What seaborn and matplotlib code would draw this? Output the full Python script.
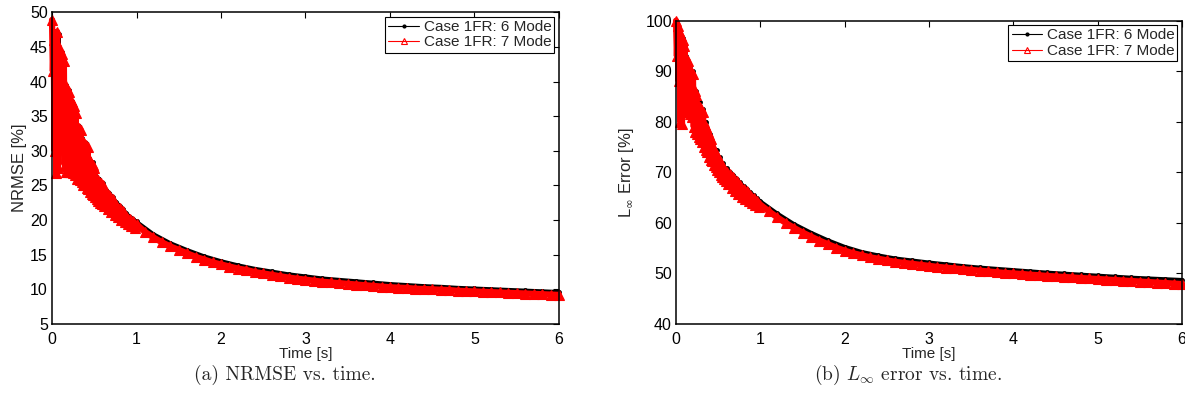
import matplotlib
matplotlib.use("Agg")
import matplotlib.pyplot as plt
from matplotlib.lines import Line2D
import seaborn as sns
import pandas as pd

# ---------------- data ----------------
# NRMSE, Case 1FR: 7 Mode (red)
t_red = [0.00, 0.01, 0.02, 0.03, 0.04, 0.05, 0.06, 0.07, 0.08, 0.09,
         0.10, 0.11, 0.12, 0.13, 0.14, 0.15, 0.16, 0.17, 0.18, 0.19,
         0.20, 0.21, 0.22, 0.23, 0.24, 0.25, 0.26, 0.27, 0.28, 0.29,
         0.30, 0.31, 0.32, 0.33, 0.34, 0.35, 0.36, 0.37, 0.38, 0.39,
         0.40, 0.41, 0.42, 0.43, 0.44, 0.45, 0.46, 0.47, 0.48, 0.49,
         0.50, 0.51, 0.52, 0.53, 0.54, 0.55, 0.56, 0.57, 0.58, 0.59,
         0.60, 0.62, 0.64, 0.66, 0.68, 0.70, 0.72, 0.74, 0.76, 0.78,
         0.80, 0.82, 0.84, 0.86, 0.88, 0.90, 0.92, 0.94, 0.96, 0.98,
         1.0, 1.1, 1.2, 1.3, 1.4, 1.5, 1.6, 1.7, 1.8, 1.9,
         2.0, 2.1, 2.2, 2.3, 2.4, 2.5, 2.6, 2.7, 2.8, 2.9,
         3.0, 3.1, 3.2, 3.3, 3.4, 3.5, 3.6, 3.7, 3.8, 3.9,
         4.0, 4.1, 4.2, 4.3, 4.4, 4.5, 4.6, 4.7, 4.8, 4.9,
         5.0, 5.1, 5.2, 5.3, 5.4, 5.5, 5.6, 5.7, 5.8, 5.9, 6.0]

nrmse_7 = [48.9, 41.5, 46.0, 30.0, 44.5, 26.8, 47.2, 27.5, 45.0, 31.0,
           44.3, 31.0, 44.0, 31.5, 43.0, 28.0, 39.3, 27.0, 39.0, 27.0,
           38.5, 27.0, 37.1, 27.0, 37.0, 26.8, 36.5, 26.5, 35.5, 26.0,
           33.5, 26.0, 33.3, 25.8, 33.0, 25.5, 31.5, 25.0, 31.1, 25.0,
           30.8, 24.7, 30.5, 24.5, 28.8, 24.0, 28.3, 23.8, 28.0, 23.6,
           27.5, 23.3, 26.0, 23.0, 25.8, 22.8, 25.5, 22.5, 25.3, 22.3,
           25.0, 22.0, 24.0, 21.6, 23.6, 21.2, 23.0, 20.8, 22.2, 20.4,
           21.8, 20.0, 21.3, 19.7, 20.6, 19.4, 20.2, 19.1, 19.8, 18.8,
           19.4, 18.3, 17.5, 16.8, 16.2, 15.7, 15.2, 14.7, 14.3, 13.9,
           13.6, 13.3, 13.0, 12.8, 12.5, 12.3, 12.1, 11.9, 11.7, 11.55,
           11.4, 11.25, 11.1, 11.0, 10.9, 10.8, 10.7, 10.6, 10.5, 10.4,
           10.3, 10.25, 10.2, 10.1, 10.05, 10.0, 9.95, 9.9, 9.8, 9.75,
           9.7, 9.65, 9.6, 9.55, 9.5, 9.45, 9.4, 9.35, 9.3, 9.25, 9.2]

# L_inf error, Case 1FR: 7 Mode (red), same time stamps as t_red
linf_7 = [100.0, 93.0, 99.0, 88.0, 98.0, 80.0, 97.0, 79.5, 96.2, 82.0,
          95.0, 83.0, 92.6, 82.5, 92.0, 82.0, 90.3, 81.5, 90.0, 81.0,
          89.5, 79.0, 86.0, 78.0, 85.3, 77.5, 83.3, 77.0, 83.0, 76.5,
          82.5, 76.0, 82.0, 75.0, 79.4, 74.5, 79.0, 74.0, 78.0, 73.0,
          76.8, 72.5, 76.5, 72.2, 75.0, 71.5, 74.1, 71.0, 73.5, 70.5,
          72.8, 70.0, 72.2, 69.5, 71.5, 69.0, 71.0, 68.6, 70.2, 68.2,
          70.0, 67.6, 69.6, 67.0, 69.0, 66.4, 68.2, 65.8, 67.5, 65.2,
          66.8, 64.8, 66.3, 64.3, 65.6, 63.9, 65.0, 63.5, 64.4, 63.1,
          63.6, 62.3, 61.1, 60.0, 59.0, 58.1, 57.3, 56.5, 55.8, 55.1,
          54.5, 54.0, 53.6, 53.2, 52.9, 52.6, 52.3, 52.1, 51.9, 51.7,
          51.5, 51.3, 51.15, 51.0, 50.85, 50.7, 50.55, 50.4, 50.25, 50.1,
          50.0, 49.9, 49.75, 49.65, 49.5, 49.4, 49.3, 49.2, 49.1, 49.0,
          48.9, 48.8, 48.7, 48.6, 48.5, 48.4, 48.3, 48.2, 48.1, 48.0, 47.9]

# Case 1FR: 6 Mode (black)
t_blk = [0.00, 0.02, 0.04, 0.06, 0.08, 0.10, 0.12, 0.14, 0.16, 0.18,
         0.20, 0.22, 0.24, 0.26, 0.28, 0.30, 0.32, 0.34, 0.36, 0.38,
         0.40, 0.42, 0.44, 0.46, 0.48, 0.50, 0.52, 0.54, 0.56, 0.58,
         0.60, 0.64, 0.68, 0.72, 0.76, 0.80, 0.84, 0.88, 0.92, 0.96,
         1.0, 1.2, 1.4, 1.6, 1.8, 2.0, 2.2, 2.4, 2.6, 2.8,
         3.0, 3.2, 3.4, 3.6, 3.8, 4.0, 4.2, 4.4, 4.6, 4.8,
         5.0, 5.2, 5.4, 5.6, 5.8, 6.0]

nrmse_6 = [48.9, 42.0, 45.0, 27.2, 46.8, 31.2, 44.2, 31.5, 39.5, 27.3,
           38.8, 27.2, 37.2, 26.8, 35.8, 26.3, 33.6, 26.0, 31.8, 25.3,
           31.2, 24.9, 29.0, 24.2, 28.4, 23.8, 26.3, 23.3, 26.0, 22.8,
           25.4, 24.4, 23.9, 23.3, 22.6, 22.1, 21.6, 21.0, 20.5, 20.1,
           19.8, 18.0, 16.7, 15.7, 14.8, 14.1, 13.5, 13.0, 12.6, 12.2,
           11.9, 11.6, 11.4, 11.2, 11.0, 10.8, 10.65, 10.5, 10.4, 10.25,
           10.15, 10.05, 9.95, 9.85, 9.75, 9.65]

linf_6 = [100.0, 94.0, 98.5, 81.0, 96.5, 83.5, 93.0, 83.0, 91.0, 82.0,
          90.0, 79.5, 86.0, 78.0, 84.0, 77.0, 82.5, 75.5, 80.0, 74.5,
          77.5, 73.0, 75.8, 72.0, 74.5, 71.0, 73.0, 70.0, 71.8, 69.2,
          70.8, 70.0, 69.5, 68.7, 68.0, 67.3, 66.7, 66.1, 65.5, 64.9,
          64.3, 61.9, 59.8, 58.1, 56.6, 55.3, 54.3, 53.6, 53.0, 52.6,
          52.2, 51.85, 51.5, 51.2, 50.95, 50.7, 50.45, 50.2, 50.0, 49.8,
          49.6, 49.4, 49.2, 49.05, 48.9, 48.75]

labels = ["Case 1FR: 6 Mode", "Case 1FR: 7 Mode"]
x_ticks = [0, 1, 2, 3, 4, 5, 6]
y_ticks_a = [5, 10, 15, 20, 25, 30, 35, 40, 45, 50]
y_ticks_b = [40, 50, 60, 70, 80, 90, 100]
captions = ["(a) NRMSE vs. time.", r"(b) $L_\infty$ error vs. time."]

# ---------------- style ----------------
sns.set_style("white")
plt.rcParams["font.family"] = ["Liberation Sans", "DejaVu Sans"]

fig = plt.figure(figsize=(11.85, 4.11), dpi=100)
ax_a = fig.add_axes([0.0439, 0.2117, 0.4278, 0.7583])
ax_b = fig.add_axes([0.5705, 0.2117, 0.4270, 0.7379])

df_red_a = pd.DataFrame({"t": t_red, "v": nrmse_7})
df_blk_a = pd.DataFrame({"t": t_blk, "v": nrmse_6})
df_red_b = pd.DataFrame({"t": t_red, "v": linf_7})
df_blk_b = pd.DataFrame({"t": t_blk, "v": linf_6})

blk_kw = dict(color="black", marker="o", markersize=3.5, markeredgewidth=0,
              linewidth=2.6, estimator=None, sort=False, clip_on=False)
red_kw = dict(color="red", marker="^", markersize=7, markerfacecolor="red",
              markeredgecolor="red", markeredgewidth=0.8, linewidth=4.5,
              estimator=None, sort=False, clip_on=False)

for ax, dfb, dfr, yt, ylab, lp in [
    (ax_a, df_blk_a, df_red_a, y_ticks_a, "NRMSE [%]", 2),
    (ax_b, df_blk_b, df_red_b, y_ticks_b, r"L$_\infty$ Error [%]", 7),
]:
    sns.lineplot(data=dfb, x="t", y="v", ax=ax, **blk_kw)
    sns.lineplot(data=dfr, x="t", y="v", ax=ax, **red_kw)
    ax.set_xlim(0, 6)
    ax.set_ylim(yt[0], yt[-1])
    ax.set_xticks(x_ticks)
    ax.set_yticks(yt)
    ax.set_xlabel("Time [s]", fontsize=11, labelpad=0)
    ax.set_ylabel(ylab, fontsize=12, labelpad=lp)
    ax.tick_params(direction="in", top=True, right=True, length=4,
                   width=0.8, labelsize=11.5, colors="black")
    ax.tick_params(axis="x", pad=6)
    ax.tick_params(axis="y", pad=3)
    for s in ax.spines.values():
        s.set_visible(True)
        s.set_color("black")
        s.set_linewidth(1.1)
    handles = [
        Line2D([], [], color="black", marker="o", markersize=3,
               markeredgewidth=0, linewidth=0.8),
        Line2D([], [], color="red", marker="^", markersize=5,
               markerfacecolor="none", markeredgecolor="red",
               markeredgewidth=0.8, linewidth=0.8),
    ]
    leg = ax.legend(handles, labels, loc="upper right", fontsize=11,
                    frameon=True, fancybox=False, framealpha=1,
                    edgecolor="black", borderpad=0.2, labelspacing=0.1,
                    handlelength=2.0, handletextpad=0.3,
                    borderaxespad=0.3)
    leg.get_frame().set_linewidth(0.8)

fig.text(0.240, 0.088, captions[0], ha="center", va="center",
         fontsize=14, family="cmr10", math_fontfamily="cm")
fig.text(0.766, 0.088, captions[1], ha="center", va="center",
         fontsize=14, family="cmr10", math_fontfamily="cm")

fig.savefig("out.png", dpi=100)
